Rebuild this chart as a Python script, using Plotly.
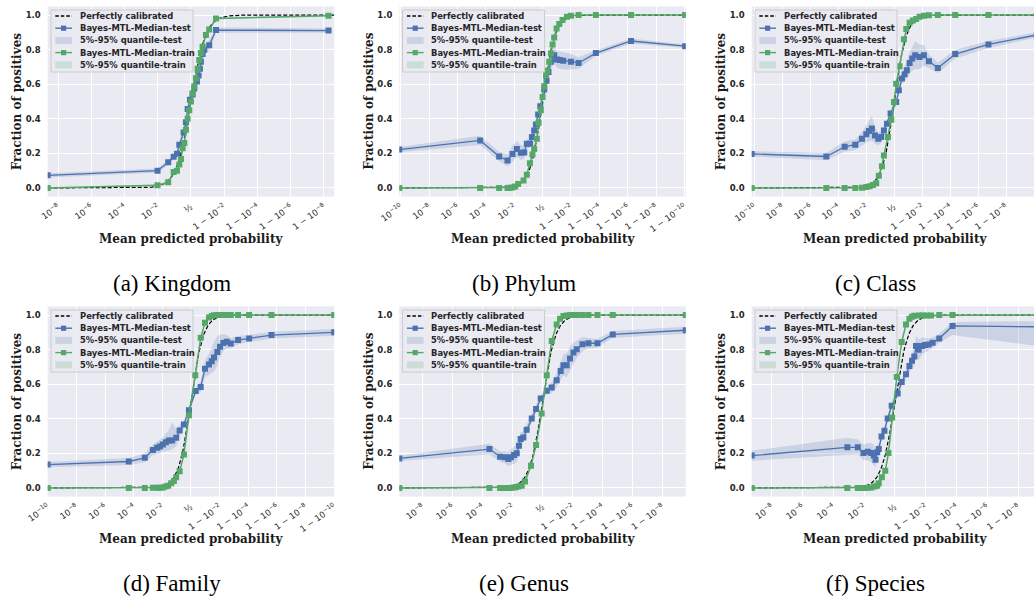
import numpy as np
import plotly.graph_objects as go

FIG_W, FIG_H = 1034, 596

# x values are given in the logit-axis coordinate log10(p / (1 - p)) of the mean predicted probability p
# ---------------- (a) Kingdom ----------------
a_test_x = [-8.62, -2.01, -1.37, -1.04, -0.84, -0.70, -0.44, -0.30, -0.20, -0.06, 0.10, 0.20, 0.36, 0.46, 0.54, 0.60, 0.70, 0.80, 1.10, 1.51, 8.28]
a_test_y = [0.073, 0.100, 0.148, 0.180, 0.198, 0.250, 0.320, 0.380, 0.456, 0.510, 0.540, 0.575, 0.615, 0.650, 0.690, 0.730, 0.775, 0.800, 0.825, 0.913, 0.910]
a_test_lo = [0.061, 0.088, 0.133, 0.165, 0.178, 0.225, 0.290, 0.360, 0.436, 0.490, 0.520, 0.555, 0.590, 0.625, 0.665, 0.700, 0.745, 0.770, 0.795, 0.898, 0.898]
a_test_hi = [0.085, 0.112, 0.163, 0.195, 0.218, 0.275, 0.350, 0.400, 0.476, 0.530, 0.560, 0.595, 0.640, 0.675, 0.715, 0.760, 0.805, 0.830, 0.855, 0.928, 0.922]
a_train_x = [-8.62, -2.01, -1.37, -1.04, -0.84, -0.70, -0.60, -0.50, -0.40, -0.30, -0.20, -0.10, 0.00, 0.10, 0.20, 0.30, 0.40, 0.50, 0.60, 0.70, 0.90, 1.10, 1.51, 8.28]
a_train_y = [0.000, 0.015, 0.033, 0.092, 0.100, 0.135, 0.167, 0.230, 0.260, 0.337, 0.400, 0.450, 0.500, 0.548, 0.587, 0.635, 0.690, 0.740, 0.780, 0.817, 0.885, 0.917, 0.980, 0.996]
a_train_lo = [0.000, 0.010, 0.026, 0.082, 0.090, 0.123, 0.155, 0.216, 0.246, 0.322, 0.385, 0.435, 0.485, 0.533, 0.572, 0.620, 0.675, 0.726, 0.767, 0.805, 0.875, 0.908, 0.974, 0.992]
a_train_hi = [0.004, 0.020, 0.040, 0.102, 0.110, 0.147, 0.179, 0.244, 0.274, 0.352, 0.415, 0.465, 0.515, 0.563, 0.602, 0.650, 0.705, 0.754, 0.793, 0.829, 0.895, 0.926, 0.986, 1.000]

# ---------------- (b) Phylum ----------------
b_test_x = [-10.1, -4.40, -3.06, -2.47, -2.12, -1.81, -1.53, -1.29, -1.11, -0.87, -0.75, -0.59, -0.47, -0.31, -0.16, 0.12, 0.28, 0.42, 0.59, 0.82, 1.01, 1.22, 1.46, 2.00, 2.54, 3.76, 6.24, 10.05]
b_test_y = [0.222, 0.275, 0.182, 0.159, 0.197, 0.226, 0.203, 0.205, 0.255, 0.255, 0.294, 0.333, 0.367, 0.425, 0.472, 0.570, 0.620, 0.670, 0.730, 0.768, 0.743, 0.740, 0.735, 0.730, 0.723, 0.780, 0.850, 0.820]
b_test_lo = [0.207, 0.248, 0.155, 0.125, 0.150, 0.180, 0.160, 0.168, 0.228, 0.232, 0.270, 0.310, 0.345, 0.400, 0.450, 0.548, 0.595, 0.640, 0.690, 0.720, 0.695, 0.690, 0.685, 0.685, 0.690, 0.765, 0.835, 0.810]
b_test_hi = [0.237, 0.302, 0.210, 0.195, 0.245, 0.272, 0.248, 0.242, 0.282, 0.278, 0.318, 0.356, 0.390, 0.450, 0.494, 0.592, 0.645, 0.700, 0.770, 0.815, 0.790, 0.790, 0.785, 0.775, 0.756, 0.795, 0.865, 0.830]
b_train_x = [-10.1, -4.40, -3.06, -2.47, -2.31, -2.12, -1.93, -1.72, -1.34, -1.11, -0.89, -0.71, -0.59, -0.40, -0.28, -0.12, 0.00, 0.12, 0.24, 0.35, 0.47, 0.59, 0.71, 0.82, 0.99, 1.18, 1.41, 1.72, 2.00, 2.54, 3.76, 6.24, 10.05]
b_train_y = [0.000, 0.000, 0.000, 0.000, 0.001, 0.002, 0.008, 0.023, 0.043, 0.077, 0.143, 0.193, 0.226, 0.284, 0.377, 0.450, 0.526, 0.588, 0.652, 0.680, 0.730, 0.778, 0.830, 0.870, 0.922, 0.948, 0.971, 0.990, 0.996, 1.000, 1.000, 1.000, 1.000]
b_train_lo = [0.000, 0.000, 0.000, 0.000, 0.000, 0.000, 0.004, 0.016, 0.035, 0.067, 0.131, 0.180, 0.213, 0.270, 0.362, 0.436, 0.512, 0.575, 0.640, 0.668, 0.719, 0.768, 0.821, 0.862, 0.915, 0.942, 0.966, 0.986, 0.993, 0.998, 0.998, 0.998, 0.998]
b_train_hi = [0.002, 0.002, 0.002, 0.002, 0.003, 0.005, 0.012, 0.030, 0.051, 0.087, 0.155, 0.206, 0.239, 0.298, 0.392, 0.464, 0.540, 0.601, 0.664, 0.692, 0.741, 0.788, 0.839, 0.878, 0.929, 0.954, 0.976, 0.994, 0.999, 1.000, 1.000, 1.000, 1.000]

# ---------------- (c) Class ----------------
c_test_x = [-10.2, -4.86, -3.55, -2.79, -2.31, -2.00, -1.81, -1.60, -1.38, -1.14, -0.93, -0.74, -0.52, -0.26, 0.14, 0.33, 0.55, 0.74, 0.90, 1.10, 1.29, 1.50, 1.81, 2.12, 2.48, 3.12, 4.36, 6.74, 10.2]
c_test_y = [0.197, 0.182, 0.238, 0.250, 0.285, 0.310, 0.330, 0.344, 0.304, 0.284, 0.294, 0.333, 0.371, 0.430, 0.497, 0.565, 0.633, 0.658, 0.681, 0.723, 0.748, 0.768, 0.758, 0.768, 0.733, 0.694, 0.774, 0.830, 0.885]
c_test_lo = [0.182, 0.160, 0.210, 0.220, 0.245, 0.260, 0.270, 0.275, 0.255, 0.245, 0.264, 0.303, 0.346, 0.405, 0.472, 0.540, 0.603, 0.618, 0.631, 0.663, 0.678, 0.688, 0.688, 0.708, 0.693, 0.664, 0.749, 0.810, 0.870]
c_test_hi = [0.212, 0.202, 0.268, 0.280, 0.325, 0.360, 0.390, 0.414, 0.354, 0.324, 0.324, 0.363, 0.396, 0.455, 0.522, 0.590, 0.663, 0.698, 0.731, 0.783, 0.818, 0.848, 0.828, 0.828, 0.773, 0.724, 0.799, 0.850, 0.900]
c_train_x = [-10.2, -4.86, -3.55, -2.79, -2.31, -2.00, -1.76, -1.52, -1.29, -1.10, -0.88, -0.74, -0.45, -0.21, -0.02, 0.14, 0.38, 0.69, 0.86, 1.10, 1.33, 1.57, 1.81, 2.12, 2.48, 3.12, 4.36, 6.74, 10.2]
c_train_y = [0.000, 0.000, 0.000, 0.000, 0.001, 0.005, 0.010, 0.017, 0.027, 0.070, 0.126, 0.188, 0.294, 0.395, 0.497, 0.603, 0.704, 0.860, 0.920, 0.955, 0.968, 0.977, 0.990, 0.996, 0.999, 1.000, 1.000, 1.000, 1.000]
c_train_lo = [0.000, 0.000, 0.000, 0.000, 0.000, 0.002, 0.006, 0.011, 0.020, 0.060, 0.114, 0.175, 0.280, 0.380, 0.482, 0.589, 0.691, 0.849, 0.911, 0.948, 0.962, 0.972, 0.986, 0.993, 0.997, 0.998, 0.998, 0.998, 0.998]
c_train_hi = [0.002, 0.002, 0.002, 0.002, 0.003, 0.008, 0.014, 0.023, 0.034, 0.080, 0.138, 0.201, 0.308, 0.410, 0.512, 0.617, 0.717, 0.871, 0.929, 0.962, 0.974, 0.982, 0.994, 0.999, 1.000, 1.000, 1.000, 1.000, 1.000]

# ---------------- (d) Family ----------------
d_test_x = [-10.0, -4.34, -3.22, -2.66, -2.36, -2.17, -1.96, -1.75, -1.54, -1.31, -1.03, -0.79, -0.49, -0.14, 0.33, 0.68, 0.98, 1.26, 1.45, 1.61, 1.84, 2.03, 2.26, 2.50, 2.78, 3.29, 4.06, 5.62, 10.0]
d_test_y = [0.135, 0.153, 0.174, 0.220, 0.232, 0.240, 0.251, 0.265, 0.275, 0.275, 0.290, 0.333, 0.367, 0.449, 0.561, 0.584, 0.690, 0.714, 0.733, 0.754, 0.787, 0.816, 0.839, 0.845, 0.836, 0.855, 0.865, 0.884, 0.900]
d_test_lo = [0.120, 0.133, 0.149, 0.190, 0.197, 0.200, 0.211, 0.215, 0.215, 0.225, 0.240, 0.303, 0.342, 0.429, 0.541, 0.554, 0.640, 0.654, 0.663, 0.674, 0.707, 0.756, 0.794, 0.805, 0.806, 0.830, 0.845, 0.864, 0.880]
d_test_hi = [0.150, 0.173, 0.199, 0.250, 0.267, 0.280, 0.291, 0.315, 0.335, 0.380, 0.340, 0.363, 0.392, 0.469, 0.581, 0.614, 0.740, 0.774, 0.813, 0.844, 0.877, 0.886, 0.889, 0.885, 0.866, 0.880, 0.885, 0.904, 0.920]
d_train_x = [-10.0, -4.34, -3.22, -2.66, -2.36, -2.17, -1.96, -1.77, -1.59, -1.38, -1.19, -1.03, -0.79, -0.49, -0.14, 0.30, 0.68, 0.98, 1.26, 1.45, 1.61, 1.84, 2.08, 2.26, 2.50, 2.78, 3.29, 4.06, 5.62, 10.0]
d_train_y = [0.000, 0.000, 0.000, 0.001, 0.001, 0.001, 0.003, 0.008, 0.013, 0.027, 0.040, 0.062, 0.097, 0.193, 0.420, 0.652, 0.868, 0.955, 0.986, 0.995, 0.999, 1.000, 1.000, 1.000, 1.000, 1.000, 1.000, 1.000, 1.000, 1.000]
d_train_lo = [0.000, 0.000, 0.000, 0.000, 0.000, 0.000, 0.001, 0.004, 0.008, 0.020, 0.031, 0.051, 0.084, 0.178, 0.402, 0.636, 0.857, 0.948, 0.981, 0.991, 0.996, 0.998, 0.998, 0.998, 0.998, 0.998, 0.998, 0.998, 0.998, 0.998]
d_train_hi = [0.002, 0.002, 0.002, 0.003, 0.003, 0.003, 0.006, 0.012, 0.018, 0.034, 0.049, 0.073, 0.110, 0.208, 0.438, 0.668, 0.879, 0.962, 0.991, 0.999, 1.000, 1.000, 1.000, 1.000, 1.000, 1.000, 1.000, 1.000, 1.000, 1.000]

# ---------------- (e) Genus ----------------
e_test_x = [-9.55, -3.54, -2.83, -2.50, -2.28, -2.10, -1.90, -1.72, -1.57, -1.46, -1.28, -1.06, -0.72, -0.43, -0.12, 0.28, 0.61, 0.94, 1.21, 1.39, 1.61, 1.83, 2.06, 2.28, 2.66, 3.06, 3.66, 4.68, 9.55]
e_test_y = [0.171, 0.225, 0.181, 0.177, 0.167, 0.177, 0.190, 0.200, 0.244, 0.283, 0.292, 0.337, 0.402, 0.456, 0.517, 0.562, 0.581, 0.623, 0.677, 0.710, 0.710, 0.748, 0.783, 0.802, 0.831, 0.837, 0.837, 0.888, 0.912]
e_test_lo = [0.156, 0.195, 0.151, 0.142, 0.127, 0.132, 0.140, 0.150, 0.194, 0.243, 0.262, 0.307, 0.377, 0.436, 0.497, 0.542, 0.551, 0.583, 0.627, 0.650, 0.640, 0.678, 0.723, 0.752, 0.791, 0.807, 0.812, 0.868, 0.892]
e_test_hi = [0.186, 0.255, 0.211, 0.212, 0.207, 0.222, 0.240, 0.250, 0.294, 0.323, 0.322, 0.367, 0.427, 0.476, 0.537, 0.582, 0.611, 0.663, 0.727, 0.770, 0.780, 0.818, 0.843, 0.852, 0.871, 0.867, 0.862, 0.908, 0.932]
e_train_x = [-9.55, -3.54, -2.83, -2.61, -2.39, -2.17, -1.94, -1.79, -1.61, -1.39, -1.17, -0.77, -0.43, -0.06, 0.28, 0.61, 0.94, 1.17, 1.39, 1.61, 1.83, 2.06, 2.28, 2.66, 3.06, 3.66, 4.68, 9.55]
e_train_y = [0.000, 0.000, 0.000, 0.000, 0.000, 0.000, 0.002, 0.004, 0.008, 0.013, 0.037, 0.129, 0.248, 0.431, 0.652, 0.850, 0.946, 0.979, 0.994, 0.998, 1.000, 1.000, 1.000, 1.000, 1.000, 1.000, 1.000, 1.000]
e_train_lo = [0.000, 0.000, 0.000, 0.000, 0.000, 0.000, 0.000, 0.001, 0.004, 0.008, 0.029, 0.116, 0.233, 0.415, 0.637, 0.839, 0.939, 0.974, 0.990, 0.995, 0.998, 0.998, 0.998, 0.998, 0.998, 0.998, 0.998, 0.998]
e_train_hi = [0.002, 0.002, 0.002, 0.002, 0.002, 0.002, 0.005, 0.008, 0.013, 0.019, 0.045, 0.142, 0.263, 0.447, 0.667, 0.861, 0.953, 0.984, 0.998, 1.000, 1.000, 1.000, 1.000, 1.000, 1.000, 1.000, 1.000, 1.000]

# ---------------- (f) Species ----------------
f_test_x = [-9.30, -3.09, -2.41, -2.04, -1.76, -1.54, -1.37, -1.26, -1.15, -1.05, -0.87, -0.68, -0.47, -0.21, 0.18, 0.44, 0.72, 0.94, 1.11, 1.26, 1.37, 1.54, 1.76, 1.95, 2.19, 2.45, 2.88, 3.74, 9.30]
f_test_y = [0.187, 0.235, 0.235, 0.202, 0.210, 0.202, 0.187, 0.163, 0.206, 0.225, 0.298, 0.331, 0.402, 0.475, 0.546, 0.613, 0.658, 0.706, 0.735, 0.760, 0.821, 0.800, 0.821, 0.827, 0.830, 0.840, 0.865, 0.937, 0.932]
f_test_lo = [0.158, 0.190, 0.195, 0.160, 0.160, 0.150, 0.130, 0.120, 0.160, 0.190, 0.270, 0.305, 0.380, 0.455, 0.526, 0.588, 0.628, 0.670, 0.690, 0.710, 0.760, 0.740, 0.770, 0.785, 0.795, 0.810, 0.840, 0.885, 0.820]
f_test_hi = [0.215, 0.290, 0.280, 0.250, 0.260, 0.260, 0.250, 0.220, 0.250, 0.260, 0.326, 0.357, 0.424, 0.495, 0.566, 0.638, 0.688, 0.742, 0.780, 0.810, 0.880, 0.860, 0.870, 0.869, 0.865, 0.870, 0.890, 0.960, 0.965]
f_train_x = [-9.30, -3.09, -2.41, -2.19, -1.97, -1.76, -1.54, -1.33, -1.15, -1.05, -0.85, -0.63, -0.42, -0.18, 0.12, 0.44, 0.72, 0.94, 1.11, 1.26, 1.59, 1.80, 2.06, 2.34, 2.88, 3.74, 9.30]
f_train_y = [0.000, 0.000, 0.000, 0.000, 0.000, 0.001, 0.002, 0.008, 0.013, 0.027, 0.062, 0.100, 0.202, 0.408, 0.642, 0.844, 0.946, 0.979, 0.990, 0.996, 0.998, 0.998, 0.998, 0.998, 1.000, 1.000, 1.000]
f_train_lo = [0.000, 0.000, 0.000, 0.000, 0.000, 0.000, 0.000, 0.004, 0.008, 0.020, 0.052, 0.088, 0.187, 0.392, 0.626, 0.832, 0.938, 0.973, 0.985, 0.992, 0.995, 0.995, 0.995, 0.995, 0.998, 0.998, 0.998]
f_train_hi = [0.002, 0.002, 0.002, 0.002, 0.002, 0.003, 0.005, 0.012, 0.018, 0.034, 0.072, 0.112, 0.217, 0.424, 0.658, 0.856, 0.954, 0.985, 0.995, 1.000, 1.000, 1.000, 1.000, 1.000, 1.000, 1.000, 1.000]

PANEL_TITLES = ["(a) Kingdom", "(b) Phylum", "(c) Class", "(d) Family", "(e) Genus", "(f) Species"]
X_LIMITS = [(-8.62, 8.62), (-10.1, 10.1), (-10.2, 10.0), (-10.0, 10.0), (-9.55, 9.55), (-9.3, 9.03)]
TICK_PROBS = [1e-10, 1e-8, 1e-6, 1e-4, 1e-2, 0.5, 1 - 1e-2, 1 - 1e-4, 1 - 1e-6, 1 - 1e-8, 1 - 1e-10]
TICK_TEXT = ["10<sup>−10</sup>", "10<sup>−8</sup>", "10<sup>−6</sup>", "10<sup>−4</sup>", "10<sup>−2</sup>", "½",
             "1 − 10<sup>−2</sup>", "1 − 10<sup>−4</sup>", "1 − 10<sup>−6</sup>", "1 − 10<sup>−8</sup>", "1 − 10<sup>−10</sup>"]
Y_TICKS = [0.0, 0.2, 0.4, 0.6, 0.8, 1.0]
LEGEND_LABELS = ["Perfectly calibrated", "Bayes-MTL-Median-test", "5%-95% quantile-test",
                 "Bayes-MTL-Median-train", "5%-95% quantile-train"]

SERIES = [
    (a_test_x, a_test_y, a_test_lo, a_test_hi, a_train_x, a_train_y, a_train_lo, a_train_hi),
    (b_test_x, b_test_y, b_test_lo, b_test_hi, b_train_x, b_train_y, b_train_lo, b_train_hi),
    (c_test_x, c_test_y, c_test_lo, c_test_hi, c_train_x, c_train_y, c_train_lo, c_train_hi),
    (d_test_x, d_test_y, d_test_lo, d_test_hi, d_train_x, d_train_y, d_train_lo, d_train_hi),
    (e_test_x, e_test_y, e_test_lo, e_test_hi, e_train_x, e_train_y, e_train_lo, e_train_hi),
    (f_test_x, f_test_y, f_test_lo, f_test_hi, f_train_x, f_train_y, f_train_lo, f_train_hi),
]

BLUE = "#4C72B0"
GREEN = "#55A868"
BLUE_BAND = "rgba(76,114,176,0.2)"
GREEN_BAND = "rgba(85,168,104,0.2)"
TEXT = "#262626"
DASH = "4px,2px"

tick_vals = [float(np.log10(p / (1 - p))) for p in TICK_PROBS]

# layout geometry (pixels)
COL_LEFT = [47.7, 399.3, 751.7]
PLOT_W = 286.5
ROW_TOP = [6.4, 306.4]
PLOT_H = 190.2


def pxx(p):
    return p / FIG_W


def pxy(p):
    return 1 - p / FIG_H


fig = go.Figure()
shapes = []
annotations = []

for i, (tx, ty, tlo, thi, rx, ry, rlo, rhi) in enumerate(SERIES):
    r, c = divmod(i, 3)
    sfx = "" if i == 0 else str(i + 1)
    xa, ya = "x" + sfx, "y" + sfx
    left = COL_LEFT[c]
    right = min(left + PLOT_W, FIG_W)
    top = ROW_TOP[r]
    bottom = top + PLOT_H
    xr = X_LIMITS[i]

    fig.update_layout({
        "xaxis" + sfx: dict(
            domain=[pxx(left), pxx(right)], range=list(xr), anchor=ya,
            tickvals=tick_vals, ticktext=TICK_TEXT, tickangle=-35,
            showgrid=True, gridcolor="white", gridwidth=1, zeroline=False, showline=False,
            ticks="", ticklabelstandoff=3, automargin=False,
            tickfont=dict(family="DejaVu Sans", size=8.6, color=TEXT),
        ),
        "yaxis" + sfx: dict(
            domain=[pxy(bottom), pxy(top)], range=[-0.05, 1.05], anchor=xa,
            tickvals=Y_TICKS, tickformat=".1f",
            showgrid=True, gridcolor="white", gridwidth=1, zeroline=False, showline=False,
            ticks="", ticklabelstandoff=6, automargin=False,
            tickfont=dict(family="DejaVu Sans", size=8.5, color=TEXT, weight="bold"),
        ),
    })

    # perfectly calibrated reference: fraction of positives equals predicted probability
    grid = np.linspace(xr[0], xr[1], 400)
    fig.add_trace(go.Scatter(x=grid, y=1 / (1 + 10 ** (-grid)), mode="lines", name=LEGEND_LABELS[0],
                             line=dict(color="black", width=1.2, dash=DASH),
                             xaxis=xa, yaxis=ya, showlegend=False))
    fig.add_trace(go.Scatter(x=tx, y=ty, mode="lines+markers", name=LEGEND_LABELS[1],
                             line=dict(color=BLUE, width=1.3),
                             marker=dict(symbol="square", size=6, color=BLUE, line=dict(width=0)),
                             xaxis=xa, yaxis=ya, showlegend=False))
    fig.add_trace(go.Scatter(x=list(tx) + list(tx)[::-1], y=list(tlo) + list(thi)[::-1],
                             mode="lines", fill="toself", fillcolor=BLUE_BAND, line=dict(width=0),
                             name=LEGEND_LABELS[2], xaxis=xa, yaxis=ya, showlegend=False, hoverinfo="skip"))
    fig.add_trace(go.Scatter(x=rx, y=ry, mode="lines+markers", name=LEGEND_LABELS[3],
                             line=dict(color=GREEN, width=1.5),
                             marker=dict(symbol="square", size=6, color=GREEN, line=dict(width=0)),
                             xaxis=xa, yaxis=ya, showlegend=False))
    fig.add_trace(go.Scatter(x=list(rx) + list(rx)[::-1], y=list(rlo) + list(rhi)[::-1],
                             mode="lines", fill="toself", fillcolor=GREEN_BAND, line=dict(width=0),
                             name=LEGEND_LABELS[4], xaxis=xa, yaxis=ya, showlegend=False, hoverinfo="skip"))

    # legend box (drawn in the upper-left corner of each panel)
    bl, bt = left + 3.3, top + 3.6
    shapes.append(dict(type="rect", xref="paper", yref="paper", layer="above",
                       x0=pxx(bl), x1=pxx(bl + 142), y0=pxy(bt), y1=pxy(bt + 62),
                       fillcolor="rgba(234,234,242,0.85)", line=dict(color="#cccccc", width=1)))
    row_dy = [6.0, 18.2, 30.4, 42.6, 54.8]
    s0, s1, sc = bl + 4.3, bl + 21.0, bl + 12.6
    for k, lab in enumerate(LEGEND_LABELS):
        yy = bt + row_dy[k]
        if k == 0:
            shapes.append(dict(type="line", xref="paper", yref="paper", layer="above",
                               x0=pxx(s0), x1=pxx(s1), y0=pxy(yy), y1=pxy(yy),
                               line=dict(color="black", width=1.3, dash="3.5px,2px")))
        elif k in (1, 3):
            col = BLUE if k == 1 else GREEN
            shapes.append(dict(type="line", xref="paper", yref="paper", layer="above",
                               x0=pxx(s0), x1=pxx(s1), y0=pxy(yy), y1=pxy(yy),
                               line=dict(color=col, width=1.4)))
            shapes.append(dict(type="rect", xref="paper", yref="paper", layer="above",
                               x0=pxx(sc - 2.6), x1=pxx(sc + 2.6), y0=pxy(yy - 2.6), y1=pxy(yy + 2.6),
                               fillcolor=col, line=dict(width=0)))
        else:
            colb = BLUE_BAND if k == 2 else GREEN_BAND
            shapes.append(dict(type="rect", xref="paper", yref="paper", layer="above",
                               x0=pxx(s0), x1=pxx(s1), y0=pxy(yy - 3.5), y1=pxy(yy + 3.5),
                               fillcolor=colb, line=dict(width=0)))
        annotations.append(dict(text=lab, xref="paper", yref="paper", x=pxx(bl + 26.6), y=pxy(yy),
                                xanchor="left", yanchor="middle", showarrow=False,
                                font=dict(family="DejaVu Sans", size=8.4, color=TEXT, weight="bold")))

    # axis titles
    cx = (left + left + PLOT_W) / 2
    annotations.append(dict(text="Mean predicted probability", xref="paper", yref="paper",
                            x=pxx(cx), y=pxy(bottom + 42), xanchor="center", yanchor="middle",
                            showarrow=False,
                            font=dict(family="DejaVu Serif", size=12, color="#1a1a1a", weight="bold")))
    annotations.append(dict(text="Fraction of positives", xref="paper", yref="paper",
                            x=pxx(left - 31), y=pxy((top + bottom) / 2), xanchor="center", yanchor="middle",
                            textangle=-90, showarrow=False,
                            font=dict(family="DejaVu Serif", size=12, color="#1a1a1a", weight="bold")))
    # sub-figure caption
    annotations.append(dict(text=PANEL_TITLES[i], xref="paper", yref="paper",
                            x=pxx(cx - 19), y=pxy(top + 277), xanchor="center", yanchor="middle",
                            showarrow=False,
                            font=dict(family="Liberation Serif", size=23, color="black")))

fig.update_layout(
    width=FIG_W, height=FIG_H,
    margin=dict(l=0, r=0, t=0, b=0),
    paper_bgcolor="white", plot_bgcolor="#EAEAF2",
    showlegend=False,
    shapes=shapes, annotations=annotations,
)

fig.write_html("out.html")
